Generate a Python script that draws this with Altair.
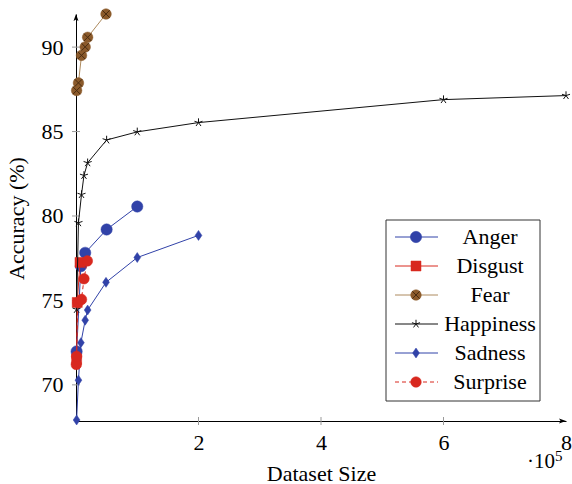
import altair as alt
import pandas as pd

# ---- data ----
anger_x = [1000, 8000, 15000, 50000, 100000]
anger_y = [71.98, 77.03, 77.82, 79.2, 80.56]
disgust_x = [1000, 2000, 6500]
disgust_y = [71.51, 74.88, 77.25]
fear_x = [1000, 4000, 9000, 15000, 19000, 49000]
fear_y = [87.43, 87.88, 89.51, 90.01, 90.58, 91.96]
happiness_x = [1000, 4000, 9000, 13000, 19000, 50000, 100000, 200000, 600000, 800000]
happiness_y = [74.47, 79.6, 81.27, 82.4, 83.15, 84.5, 84.98, 85.53, 86.89, 87.13]
sadness_x = [1000, 4000, 8000, 15000, 19000, 49000, 100000, 200000]
sadness_y = [67.92, 70.28, 72.5, 73.83, 74.43, 76.07, 77.54, 78.85]
surprise_x = [500, 1000, 3000, 9000, 13000, 18500]
surprise_y = [71.21, 71.69, 74.88, 75.06, 76.28, 77.34]

legend_names = ["Anger", "Disgust", "Fear", "Happiness", "Sadness", "Surprise"]
x_tick_values = [200000, 400000, 600000, 800000]
y_tick_values = [70, 75, 80, 85, 90]

# ---- style ----
FONT = "Liberation Serif"
FS = 22
BLUE = "#3142a8"
RED = "#d8281f"
BROWN = "#8b5a2b"
TAN = "#ad8a5e"
BLACK = "#111111"
W, H = 490, 407

STAR = "M0,0L0,-1M0,0L0.951,-0.309M0,0L0.588,0.809M0,0L-0.588,0.809M0,0L-0.951,-0.309"
CROSS = "M-0.7,-0.7L0.7,0.7M-0.7,0.7L0.7,-0.7"
DIAMOND = "M0,-1L0.68,0L0,1L-0.68,0Z"
ARROW = "M0,-1L0.62,0.75L0,0.35L-0.62,0.75Z"

series = [
    dict(name="Anger", xs=anger_x, ys=anger_y, line=BLUE, dash=None,
         marks=[dict(shape="circle", size=128, filled=True, color=BLUE)]),
    dict(name="Disgust", xs=disgust_x, ys=disgust_y, line=RED, dash=None,
         marks=[dict(shape="square", size=100, filled=True, color=RED)]),
    dict(name="Fear", xs=fear_x, ys=fear_y, line=TAN, dash=None,
         marks=[dict(shape="circle", size=112, filled=True, color=BROWN),
                dict(shape=CROSS, size=112, filled=False, color="#4a2c10", strokeWidth=1)]),
    dict(name="Happiness", xs=happiness_x, ys=happiness_y, line=BLACK, dash=None,
         marks=[dict(shape=STAR, size=72, filled=False, color=BLACK, strokeWidth=1)]),
    dict(name="Sadness", xs=sadness_x, ys=sadness_y, line=BLUE, dash=None,
         marks=[dict(shape=DIAMOND, size=100, filled=True, color=BLUE)]),
    dict(name="Surprise", xs=surprise_x, ys=surprise_y, line=RED, dash=[4, 3],
         marks=[dict(shape="circle", size=112, filled=True, color=RED)]),
]

xscale = alt.Scale(domain=[0, 800000], nice=False, zero=False)
yscale = alt.Scale(domain=[67.86, 91.96], nice=False, zero=False)

xaxis = alt.Axis(values=x_tick_values, labelExpr="'' + (datum.value / 100000)",
                 title="Dataset Size", titleY=59, titleBaseline="alphabetic",
                 ticks=False, tickSize=0, labelPadding=11, labelFlush=False,
                 labelOverlap=False, grid=False, labelFont=FONT, titleFont=FONT)
yaxis = alt.Axis(values=y_tick_values, title="Accuracy (%)", titleX=-53, titleY=204,
                 titleAngle=270, titleBaseline="alphabetic", titleAlign="center",
                 ticks=False, tickSize=0, labelPadding=13, grid=False, labelOverlap=False,
                 labelFont=FONT, titleFont=FONT)

X = alt.X("x:Q", scale=xscale, axis=xaxis)
Y = alt.Y("y:Q", scale=yscale, axis=yaxis)

data_layers = []
legend_layers = []

one = pd.DataFrame({"k": [0]})

# axis ticks (gray, crossing the axis lines)
ytick_df = pd.DataFrame({"y": y_tick_values})
xtick_df = pd.DataFrame({"x": x_tick_values[:-1]})
data_layers.append(alt.Chart(ytick_df).mark_tick(orient="horizontal", color="#9a9a9a",
                                                  size=8, thickness=1, opacity=1)
                   .encode(y=Y, x=alt.value(0)))
data_layers.append(alt.Chart(xtick_df).mark_tick(orient="vertical", color="#9a9a9a",
                                                  size=8, thickness=1, opacity=1)
                   .encode(x=X, y=alt.value(H)))

for s in series:
    df = pd.DataFrame({"x": s["xs"], "y": s["ys"]})
    lkw = dict(color=s["line"], strokeWidth=1)
    if s["dash"]:
        lkw["strokeDash"] = s["dash"]
    data_layers.append(alt.Chart(df).mark_line(**lkw).encode(x=X, y=Y))
    for m in s["marks"]:
        kw = dict(shape=m["shape"], size=m["size"], filled=m["filled"], opacity=1)
        if m["filled"]:
            kw["fill"] = m["color"]
            kw["stroke"] = m["color"]
            kw["strokeWidth"] = 0.5
        else:
            kw["stroke"] = m["color"]
            kw["strokeWidth"] = m.get("strokeWidth", 1)
        data_layers.append(alt.Chart(df).mark_point(**kw).encode(x=X, y=Y))

# arrow heads on axes
data_layers.append(alt.Chart(one).mark_point(shape=ARROW, size=64, filled=True, fill="black",
                                             opacity=1, strokeWidth=0)
                   .encode(x=alt.value(0), y=alt.value(4)))
data_layers.append(alt.Chart(one).mark_point(shape=ARROW, size=64, filled=True, fill="black",
                                             opacity=1, strokeWidth=0, angle=90)
                   .encode(x=alt.value(W - 4), y=alt.value(H)))

# scale note  ·10^5
data_layers.append(alt.Chart(one).mark_text(text="·10", font=FONT, fontSize=21, align="right",
                                            baseline="alphabetic", color="black")
                   .encode(x=alt.value(W - 11), y=alt.value(H + 47)))
data_layers.append(alt.Chart(one).mark_text(text="5", font=FONT, fontSize=15, align="left",
                                            baseline="alphabetic", color="black")
                   .encode(x=alt.value(W - 11), y=alt.value(H + 40)))

# ---- legend ----
LY = alt.Y("idx:Q", scale=alt.Scale(domain=[0, 5], range=[223, 368]), axis=None)
legend_layers.append(alt.Chart(one).mark_rect(fill="white", stroke="#333333", strokeWidth=1)
                     .encode(x=alt.value(310), x2=alt.value(464),
                             y=alt.value(206), y2=alt.value(387)))
for i, s in enumerate(series):
    ldf = pd.DataFrame({"idx": [i]})
    lkw = dict(color=s["line"], strokeWidth=1)
    if s["dash"]:
        lkw["strokeDash"] = s["dash"]
    legend_layers.append(alt.Chart(ldf).mark_rule(**lkw)
                         .encode(x=alt.value(319), x2=alt.value(362), y=LY))
    for m in s["marks"]:
        kw = dict(shape=m["shape"], size=m["size"], filled=m["filled"], opacity=1)
        if m["filled"]:
            kw["fill"] = m["color"]
            kw["stroke"] = m["color"]
            kw["strokeWidth"] = 0.5
        else:
            kw["stroke"] = m["color"]
            kw["strokeWidth"] = m.get("strokeWidth", 1)
        legend_layers.append(alt.Chart(ldf).mark_point(**kw)
                             .encode(x=alt.value(340), y=LY))

text_df = pd.DataFrame({"idx": list(range(len(legend_names))), "name": legend_names})
legend_layers.append(alt.Chart(text_df).mark_text(font=FONT, fontSize=FS, align="center",
                                                  baseline="middle", color="black")
                     .encode(x=alt.value(414), y=LY, text="name:N"))

chart = (
    alt.layer(alt.layer(*data_layers), alt.layer(*legend_layers))
    .resolve_scale(y="independent")
    .properties(width=W, height=H,
                padding={"left": 76, "top": 14, "right": 6, "bottom": 63},
                autosize=alt.AutoSizeParams(type="none"))
    .configure(font=FONT)
    .configure_view(stroke=None)
    .configure_text(font=FONT)
    .configure_axis(domainColor="black", domainWidth=1, labelFont=FONT, labelFontSize=FS,
                    labelColor="black", titleFont=FONT, titleFontSize=FS,
                    titleFontWeight="normal", titleColor="black")
)

chart.save("out.html", embed_options={"renderer": "svg", "actions": False})
